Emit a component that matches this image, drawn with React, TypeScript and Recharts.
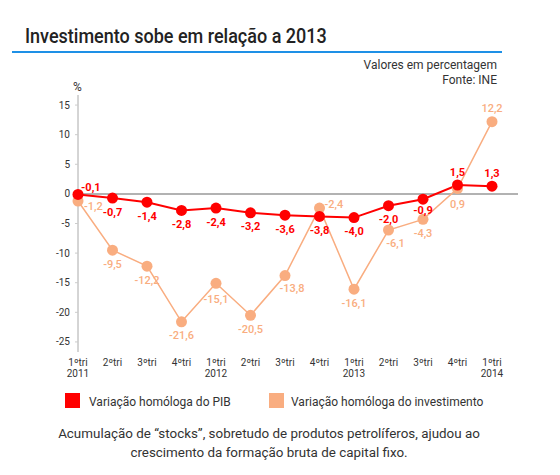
import React from "react"
import { LineChart, Line, XAxis, YAxis, ReferenceLine, LabelList } from "recharts"

const quarters = ["1ºtri", "2ºtri", "3ºtri", "4ºtri", "1ºtri", "2ºtri", "3ºtri", "4ºtri", "1ºtri", "2ºtri", "3ºtri", "4ºtri", "1ºtri"]
const years = ["2011", "", "", "", "2012", "", "", "", "2013", "", "", "", "2014"]
const pib = [-0.1, -0.7, -1.4, -2.8, -2.4, -3.2, -3.6, -3.8, -4.0, -2.0, -0.9, 1.5, 1.3]
const investimento = [-1.2, -9.5, -12.2, -21.6, -15.1, -20.5, -13.8, -2.4, -16.1, -6.1, -4.3, 0.9, 12.2]
const yTicks = [15, 10, 5, 0, -5, -10, -15, -20, -25]

// where each value label sits relative to its dot
const pibLabelPlace = ["aboveRight", "below", "below", "below", "below", "below", "below", "below", "below", "below", "belowTight", "above", "above"]
const invLabelPlace = ["right", "below", "below", "below", "belowFar", "below", "belowRight", "rightUp", "below", "belowRight", "below", "belowFar", "above"]

const RED = "#ff0000"
const ORANGE = "#f9ad80"
const FONT = "Roboto, sans-serif"

const placeOffset: Record<string, { dx: number; dy: number; anchor: string }> = {
  above: { dx: 0, dy: -13, anchor: "middle" },
  aboveRight: { dx: 3, dy: -7, anchor: "start" },
  below: { dx: 0, dy: 14, anchor: "middle" },
  belowTight: { dx: 0, dy: 11, anchor: "middle" },
  belowFar: { dx: 0, dy: 16, anchor: "middle" },
  belowRight: { dx: 7, dy: 13, anchor: "middle" },
  right: { dx: 6, dy: 6, anchor: "start" },
  rightUp: { dx: 5, dy: -4, anchor: "start" },
}

const data = quarters.map((q, i) => ({
  q,
  year: years[i],
  pib: pib[i],
  inv: investimento[i],
}))

const fmt = (v: number) => v.toFixed(1).replace(".", ",")

function makeLabel(places: string[], color: string, weight: number) {
  return (props: any) => {
    const { x, y, value, index } = props
    const p = placeOffset[places[index]] || placeOffset.below
    return (
      <text
        x={Number(x) + p.dx}
        y={Number(y) + p.dy}
        textAnchor={p.anchor as any}
        dominantBaseline="central"
        fill={color}
        fontSize={11}
        fontWeight={weight}
        fontFamily={FONT}
      >
        {fmt(Number(value))}
      </text>
    )
  }
}

function QuarterTick(props: any) {
  const { x, y, payload, index } = props
  return (
    <g>
      <text x={x} y={y + 14} textAnchor="middle" fontSize={10} fill="#333" fontFamily={FONT}>
        {payload.value}
      </text>
      <text x={x} y={y + 25} textAnchor="middle" fontSize={10} fill="#333" fontFamily={FONT}>
        {years[index]}
      </text>
    </g>
  )
}

export default function App() {
  return (
    <div style={{ position: "absolute", left: 0, top: 0, width: 560, height: 475, background: "#fff", fontFamily: FONT, color: "#333" }}>
      <div style={{ position: "absolute", left: 25, top: 24, fontSize: 20, fontWeight: 500, color: "#222", whiteSpace: "nowrap", transformOrigin: "left top", transform: "scaleX(0.9)" }}>
        Investimento sobe em relação a 2013
      </div>
      <div style={{ position: "absolute", left: 12, top: 51, width: 490, height: 2, background: "#1e90e6" }} />
      <div style={{ position: "absolute", right: 63, top: 58, fontSize: 12, textAlign: "right", lineHeight: "15px" }}>
        Valores em percentagem
        <br />
        Fonte: INE
      </div>
      <div style={{ position: "absolute", left: 73, top: 80, fontSize: 12 }}>%</div>

      <div style={{ position: "absolute", left: 0, top: 0 }}>
        <LineChart width={560} height={390} data={data} margin={{ top: 95, right: 42, left: 0, bottom: 0 }}>
          <XAxis
            dataKey="q"
            height={38}
            axisLine={false}
            tickLine={false}
            tickSize={0}
            tickMargin={0}
            interval={0}
            padding={{ left: 0, right: 26 }}
            tick={<QuarterTick />}
          />
          <YAxis
            width={78}
            domain={[-26.7, 16.7]}
            ticks={yTicks}
            allowDataOverflow
            axisLine={{ stroke: "#aaa" }}
            tickLine={{ stroke: "#ccc" }}
            tickSize={3}
            tickMargin={5}
            tick={{ fontSize: 10, fill: "#333", fontFamily: FONT }}
          />
          <ReferenceLine y={0} stroke="#999" strokeWidth={1.5} />
          <Line
            type="linear"
            dataKey="inv"
            stroke={ORANGE}
            strokeWidth={1.5}
            dot={{ r: 5.5, fill: ORANGE, stroke: ORANGE, strokeWidth: 0 }}
            activeDot={false}
            isAnimationActive={false}
          >
            <LabelList dataKey="inv" content={makeLabel(invLabelPlace, ORANGE, 500)} />
          </Line>
          <Line
            type="linear"
            dataKey="pib"
            stroke={RED}
            strokeWidth={2}
            dot={{ r: 5.5, fill: RED, stroke: RED, strokeWidth: 0 }}
            activeDot={false}
            isAnimationActive={false}
          >
            <LabelList dataKey="pib" content={makeLabel(pibLabelPlace, RED, 700)} />
          </Line>
        </LineChart>
      </div>

      <div style={{ position: "absolute", left: 65, top: 393, width: 15, height: 15, background: RED }} />
      <div style={{ position: "absolute", left: 89, top: 395, fontSize: 12 }}>Variação homóloga do PIB</div>
      <div style={{ position: "absolute", left: 269, top: 393, width: 15, height: 15, background: ORANGE }} />
      <div style={{ position: "absolute", left: 291, top: 395, fontSize: 12 }}>Variação homóloga do investimento</div>

      <div style={{ position: "absolute", left: 0, width: 538, top: 424, fontSize: 13.4, lineHeight: "19px", textAlign: "center" }}>
        Acumulação de “stocks”, sobretudo de produtos petrolíferos, ajudou ao
        <br />
        crescimento da formação bruta de capital fixo.
      </div>
    </div>
  )
}
